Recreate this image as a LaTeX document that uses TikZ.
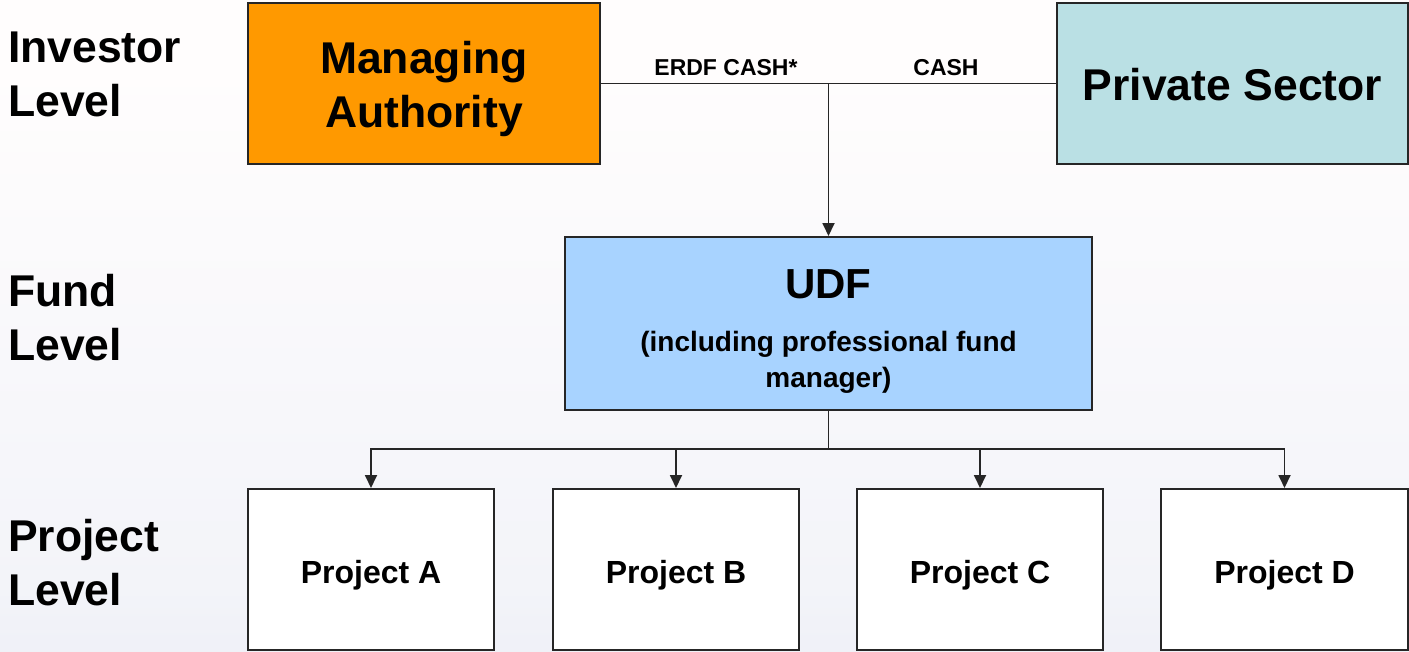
\documentclass[tikz,border=0pt]{standalone}
\usepackage{fontspec}
\setmainfont{Liberation Sans}
\usetikzlibrary{arrows.meta}
\definecolor{maorange}{RGB}{255,153,0}
\definecolor{psteal}{RGB}{186,224,228}
\definecolor{udfblue}{RGB}{168,211,255}
\definecolor{bgbot}{RGB}{222,224,240}
\definecolor{bgmid}{RGB}{243,244,249}
\definecolor{bgtop}{RGB}{255,253,253}
\pgfdeclareverticalshading{bgshade}{100bp}{color(0bp)=(bgbot); color(30bp)=(bgmid); color(70bp)=(bgtop); color(100bp)=(bgtop)}
\tikzset{
  box/.style={draw=black!85, line width=2pt, inner sep=0pt, align=center, font=\bfseries},
  bigtext/.style={font=\fontsize{44.5}{54}\selectfont\bfseries},
  leveltext/.style={anchor=west, inner sep=0pt, align=left, font=\fontsize{44.5}{54}\selectfont\bfseries},
  projbox/.style={box, minimum width=246pt, minimum height=161pt, fill=white, text height=27.6pt, text depth=0pt, font=\fontsize{32}{38}\selectfont\bfseries},
  flowlabel/.style={inner sep=0pt, font=\fontsize{23}{27}\selectfont\bfseries},
  conn/.style={draw=black!85, line width=1.8pt},
  arr/.style={conn, -{Triangle[length=13pt,width=12pt]}}
}
\begin{document}
\begin{tikzpicture}[x=1pt,y=-1pt]
\useasboundingbox (0,0) rectangle (1409,651);
\shade[shading=bgshade] (0,0) rectangle (1409,651);

% level labels
\node[leveltext] (lvinv) at (8,74.5) {Investor\\Level};
\node[leveltext] (lvfund) at (8,317.5) {Fund\\Level};
\node[leveltext] (lvproj) at (8,562.5) {Project\\Level};

% investor level
\node[box, fill=maorange, minimum width=352pt, minimum height=161pt] (ma) at (424,83.5) {};
\node[inner sep=0pt, align=center, bigtext] (matext) at (424,89) {Managing\\Authority};
\node[box, fill=psteal, minimum width=351pt, minimum height=161pt, bigtext, text height=34pt, text depth=0pt] (ps) at (1232.5,83.5) {Private Sector};

% fund level
\node[box, fill=udfblue, minimum width=527pt, minimum height=173pt] (udf) at (828.5,323.5) {};
\node[inner sep=0pt, font=\fontsize{42}{50}\selectfont\bfseries] (udft) at (828.5,284) {UDF};
\node[inner sep=0pt, align=center, font=\fontsize{28}{36}\selectfont\bfseries] (udfs) at (828.5,362) {(including professional fund\\manager)};

% project level
\node[projbox] (pa) at (371,569.5) {Project A};
\node[projbox] (pb) at (676,569.5) {Project B};
\node[projbox] (pc) at (980,569.5) {Project C};
\node[projbox, minimum width=247pt] (pd) at (1284.5,569.5) {Project D};

% connectors top
\draw[conn] (ma.east) -- (ps.west);
\coordinate (jtop) at (udf.north |- ma.east);
\draw[arr] (jtop) -- (udf.north);
\node[flowlabel] (lerdf) at (726,68) {ERDF CASH*};
\node[flowlabel] (lcash) at (946,68) {CASH};

% connectors bottom
\coordinate (jbot) at (828.5,449);
\draw[conn] (udf.south) -- (jbot);
\draw[arr] (jbot) -| (pa.north);
\draw[arr] (jbot) -| (pb.north);
\draw[arr] (jbot) -| (pc.north);
\draw[arr] (jbot) -| (pd.north);
\end{tikzpicture}
\end{document}
